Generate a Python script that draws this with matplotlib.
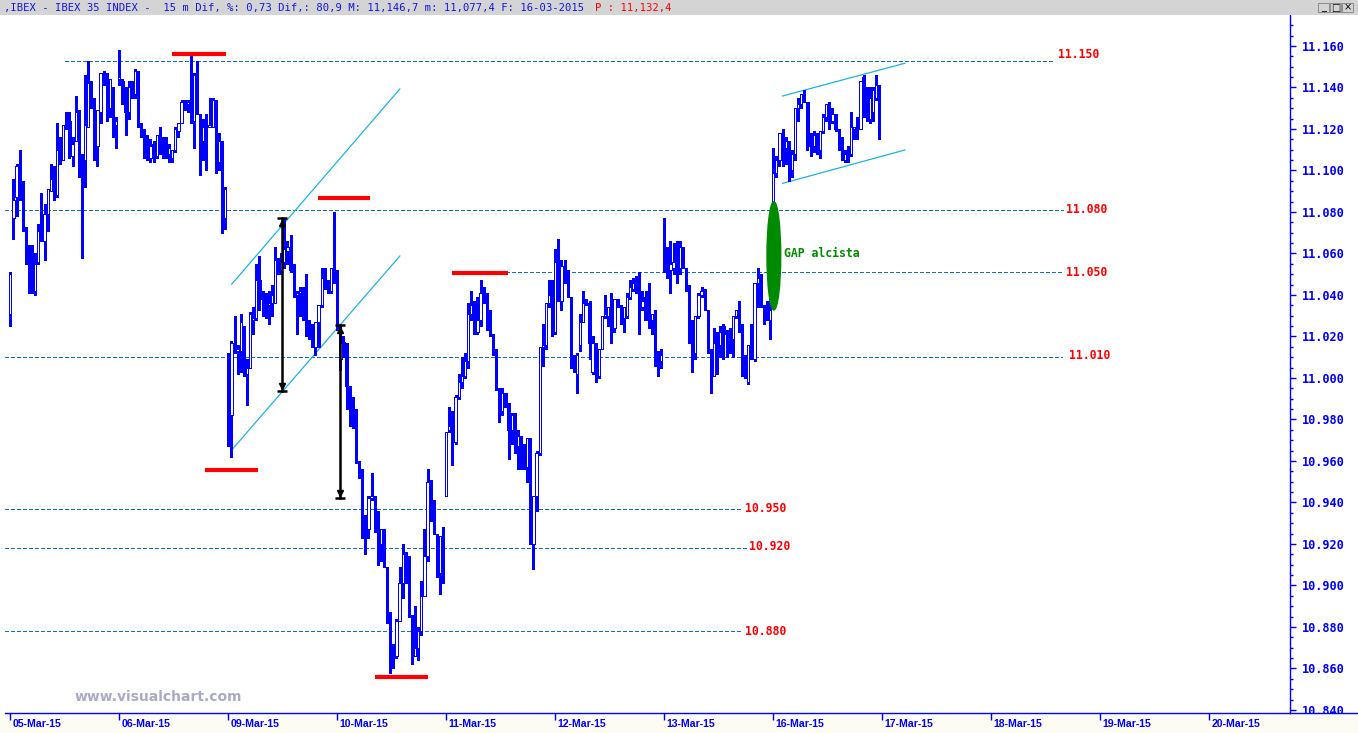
import matplotlib
matplotlib.use("Agg")
import matplotlib.pyplot as plt
from matplotlib import font_manager
from matplotlib.patches import Ellipse, Rectangle
from matplotlib.lines import Line2D
import matplotlib.transforms as mtransforms

# ------------------------------------------------------------------ data
day_labels = ["05-Mar-15", "06-Mar-15", "09-Mar-15", "10-Mar-15", "11-Mar-15", "12-Mar-15",
              "13-Mar-15", "16-Mar-15", "17-Mar-15", "18-Mar-15", "19-Mar-15", "20-Mar-15"]

# 15-minute bars, (open, high, low, close)
mar05 = [
    (11031, 11051, 11025, 11050), (11077, 11096, 11067, 11086), (11087, 11103, 11078, 11102),
    (11107, 11110, 11086, 11095), (11094, 11095, 11071, 11073), (11073, 11073, 11055, 11059),
    (11057, 11064, 11041, 11056), (11056, 11064, 11041, 11042), (11042, 11060, 11040, 11055),
    (11056, 11074, 11055, 11071), (11072, 11089, 11066, 11067), (11066, 11084, 11057, 11079),
    (11079, 11091, 11071, 11091), (11090, 11103, 11090, 11096), (11098, 11102, 11086, 11088),
    (11088, 11123, 11087, 11110), (11110, 11116, 11103, 11104), (11105, 11122, 11105, 11122),
    (11126, 11128, 11120, 11124), (11124, 11128, 11106, 11108), (11107, 11116, 11102, 11113),
    (11114, 11136, 11114, 11128), (11127, 11129, 11097, 11110), (11108, 11108, 11058, 11105),
    (11105, 11146, 11092, 11122), (11121, 11153, 11121, 11142), (11142, 11143, 11130, 11135),
    (11135, 11135, 11105, 11114), (11112, 11129, 11102, 11129), (11128, 11147, 11123, 11147),
    (11147, 11148, 11141, 11146), (11146, 11147, 11124, 11130), (11130, 11144, 11126, 11144),
    (11140, 11140, 11116, 11121), (11122, 11126, 11111, 11124),
]
mar06 = [
    (11144, 11158, 11141, 11145), (11143, 11144, 11132, 11136), (11136, 11140, 11117, 11128),
    (11128, 11143, 11125, 11140), (11139, 11143, 11135, 11137), (11137, 11149, 11135, 11148),
    (11148, 11148, 11121, 11123), (11123, 11123, 11116, 11118), (11118, 11120, 11106, 11116),
    (11115, 11117, 11105, 11106), (11106, 11115, 11104, 11112), (11113, 11114, 11104, 11107),
    (11107, 11117, 11106, 11117), (11117, 11121, 11108, 11109), (11110, 11116, 11106, 11107),
    (11114, 11116, 11106, 11108), (11108, 11113, 11104, 11111), (11106, 11110, 11104, 11110),
    (11110, 11121, 11109, 11120), (11119, 11123, 11116, 11123), (11123, 11134, 11123, 11133),
    (11133, 11134, 11129, 11132), (11132, 11134, 11128, 11133), (11133, 11155, 11123, 11124),
    (11124, 11147, 11111, 11146), (11147, 11153, 11127, 11128), (11127, 11127, 11098, 11114),
    (11114, 11125, 11105, 11121), (11122, 11127, 11100, 11121), (11121, 11135, 11121, 11122),
    (11121, 11135, 11121, 11134), (11134, 11134, 11099, 11104), (11104, 11118, 11100, 11114),
    (11114, 11114, 11070, 11080), (11077, 11092, 11072, 11091),
]
mar09 = [
    (11012, 11012, 10967, 10982), (10982, 11018, 10962, 11017), (11017, 11030, 11012, 11013),
    (11013, 11016, 11002, 11014), (11013, 11031, 11003, 11027), (11025, 11025, 11001, 11002),
    (11002, 11009, 10987, 11005), (11005, 11032, 11005, 11031), (11028, 11034, 11021, 11029),
    (11029, 11055, 11028, 11047), (11047, 11059, 11033, 11042), (11042, 11042, 11030, 11038),
    (11038, 11041, 11029, 11035), (11035, 11042, 11026, 11036), (11036, 11045, 11030, 11040),
    (11036, 11063, 11036, 11057), (11057, 11058, 11050, 11052), (11052, 11060, 11050, 11056),
    (11056, 11077, 11053, 11062), (11061, 11066, 11055, 11063), (11063, 11069, 11051, 11052),
    (11052, 11055, 11039, 11040), (11040, 11042, 11021, 11041), (11041, 11044, 11030, 11042),
    (11044, 11044, 11028, 11042), (11042, 11050, 11020, 11028), (11028, 11028, 11019, 11020),
    (11020, 11026, 11015, 11015), (11015, 11027, 11011, 11027), (11027, 11035, 11015, 11035),
    (11035, 11053, 11034, 11048), (11048, 11053, 11043, 11044), (11044, 11047, 11041, 11042),
    (11042, 11053, 11041, 11053), (11060, 11080, 11046, 11053),
]
mar10 = [
    (11052, 11052, 11023, 11025), (11009, 11025, 11004, 11017), (11017, 11020, 11010, 11017),
    (11017, 11017, 10985, 10996), (10996, 10996, 10977, 10991), (10991, 10991, 10976, 10985),
    (10983, 10985, 10959, 10959), (10959, 10960, 10952, 10955), (10955, 10956, 10923, 10929),
    (10929, 10934, 10915, 10927), (10927, 10943, 10923, 10942), (10942, 10954, 10941, 10943),
    (10943, 10943, 10926, 10935), (10935, 10936, 10910, 10920), (10920, 10927, 10912, 10927),
    (10927, 10927, 10909, 10909), (10909, 10909, 10882, 10887), (10887, 10887, 10858, 10870),
    (10870, 10872, 10860, 10866), (10866, 10884, 10865, 10883), (10883, 10909, 10883, 10901),
    (10901, 10920, 10894, 10915), (10915, 10916, 10901, 10910), (10910, 10914, 10885, 10886),
    (10886, 10886, 10862, 10867), (10866, 10890, 10866, 10870), (10870, 10880, 10864, 10878),
    (10878, 10902, 10876, 10895), (10895, 10927, 10895, 10914), (10914, 10956, 10912, 10950),
    (10950, 10951, 10931, 10932), (10932, 10941, 10925, 10925), (10925, 10925, 10904, 10906),
    (10906, 10924, 10896, 10924), (10924, 10928, 10901, 10902),
]
mar11 = [
    (10943, 10974, 10943, 10974), (10975, 10986, 10974, 10977), (10979, 10984, 10958, 10969),
    (10969, 10992, 10968, 10991), (10991, 11002, 10990, 10998), (10998, 11010, 10995, 11001),
    (11001, 11012, 11000, 11008), (11008, 11036, 11005, 11031), (11031, 11042, 11028, 11035),
    (11035, 11037, 11021, 11022), (11022, 11039, 11021, 11028), (11028, 11047, 11025, 11041),
    (11041, 11044, 11036, 11041), (11041, 11041, 11023, 11028), (11031, 11033, 11020, 11021),
    (11021, 11021, 11011, 11014), (11014, 11014, 10994, 10994), (10994, 10995, 10979, 10985),
    (10984, 10995, 10982, 10993), (10993, 10993, 10986, 10987), (10987, 10988, 10961, 10975),
    (10975, 10983, 10968, 10982), (10983, 10983, 10964, 10973), (10967, 10975, 10956, 10972),
    (10972, 10972, 10956, 10960), (10960, 10968, 10956, 10957), (10957, 10971, 10950, 10971),
    (10971, 10971, 10920, 10920), (10920, 10943, 10908, 10943), (10943, 10965, 10936, 10964),
    (10964, 11015, 10963, 11015), (11015, 11026, 11006, 11016), (11016, 11036, 11014, 11036),
    (11036, 11047, 11034, 11040), (11039, 11047, 11020, 11022),
]
mar12 = [
    (11022, 11062, 11021, 11056), (11056, 11067, 11037, 11037), (11037, 11057, 11033, 11054),
    (11053, 11057, 11046, 11047), (11047, 11052, 11039, 11039), (11039, 11039, 11005, 11012),
    (11011, 11011, 11003, 11003), (11002, 11012, 10993, 11011), (11016, 11031, 11013, 11027),
    (11027, 11042, 11027, 11036), (11036, 11038, 11035, 11035), (11036, 11037, 11009, 11017),
    (11003, 11020, 11002, 11017), (11017, 11017, 10998, 11002), (11001, 11014, 11000, 11014),
    (11014, 11030, 11014, 11030), (11030, 11040, 11029, 11031), (11030, 11034, 11025, 11034),
    (11034, 11041, 11017, 11026), (11024, 11038, 11022, 11038), (11038, 11038, 11034, 11034),
    (11034, 11035, 11026, 11028), (11029, 11034, 11022, 11034), (11030, 11041, 11029, 11039),
    (11039, 11047, 11038, 11044), (11043, 11048, 11042, 11046), (11046, 11049, 11041, 11045),
    (11045, 11051, 11021, 11035), (11034, 11042, 11033, 11037), (11039, 11042, 11028, 11028),
    (11038, 11046, 11024, 11028), (11028, 11031, 11021, 11031), (11031, 11033, 11006, 11006),
    (11010, 11013, 11001, 11006), (11008, 11014, 11005, 11011),
]
mar13 = [
    (11074, 11077, 11051, 11051), (11055, 11063, 11048, 11053), (11052, 11066, 11041, 11055),
    (11053, 11065, 11050, 11056), (11056, 11066, 11046, 11053), (11053, 11066, 11050, 11063),
    (11062, 11063, 11053, 11054), (11053, 11053, 11042, 11045), (11045, 11045, 11017, 11026),
    (11026, 11028, 11003, 11012), (11012, 11030, 11009, 11030), (11030, 11041, 11029, 11040),
    (11040, 11044, 11039, 11042), (11042, 11043, 11033, 11033), (11033, 11033, 11012, 11012),
    (11012, 11014, 10993, 11002), (11001, 11024, 11001, 11017), (11018, 11022, 11002, 11016),
    (11016, 11025, 11010, 11022), (11025, 11026, 11009, 11022), (11021, 11023, 11010, 11021),
    (11021, 11024, 11012, 11019), (11019, 11030, 11010, 11030), (11030, 11033, 11029, 11033),
    (11033, 11037, 11022, 11022), (11022, 11026, 11001, 11012), (11011, 11011, 11000, 11001),
    (10998, 11016, 10997, 11016), (11016, 11026, 11009, 11009), (11009, 11046, 11008, 11046),
    (11046, 11053, 11034, 11048), (11048, 11050, 11034, 11034), (11034, 11035, 11026, 11034),
    (11034, 11037, 11028, 11028), (11028, 11039, 11019, 11033),
]
mar16 = [
    (11080, 11111, 11078, 11099), (11099, 11107, 11097, 11105), (11105, 11118, 11102, 11118),
    (11118, 11120, 11102, 11111), (11111, 11116, 11103, 11114), (11114, 11114, 11095, 11100),
    (11100, 11110, 11097, 11108), (11108, 11130, 11105, 11130), (11130, 11135, 11124, 11132),
    (11132, 11137, 11130, 11137), (11137, 11139, 11133, 11133), (11133, 11133, 11110, 11112),
    (11118, 11118, 11107, 11112), (11112, 11119, 11109, 11117), (11117, 11118, 11108, 11110),
    (11110, 11119, 11106, 11119), (11119, 11127, 11118, 11126), (11126, 11132, 11124, 11132),
    (11132, 11133, 11120, 11124), (11124, 11130, 11123, 11127), (11127, 11127, 11119, 11120),
    (11120, 11120, 11110, 11116), (11116, 11116, 11105, 11105), (11105, 11110, 11104, 11108),
    (11108, 11112, 11104, 11108), (11108, 11128, 11107, 11121), (11120, 11121, 11115, 11121),
    (11121, 11126, 11115, 11120), (11120, 11143, 11120, 11143), (11145, 11146, 11126, 11127),
    (11127, 11140, 11124, 11125), (11125, 11140, 11123, 11135), (11128, 11140, 11124, 11139),
    (11135, 11146, 11134, 11141), (11141, 11141, 11115, 11115),
]
sessions = [mar05, mar06, mar09, mar10, mar11, mar12, mar13, mar16]

price_ticks = [10840, 10860, 10880, 10900, 10920, 10940, 10960, 10980, 11000,
               11020, 11040, 11060, 11080, 11100, 11120, 11140, 11160]
price_tick_labels = ["10.840", "10.860", "10.880", "10.900", "10.920", "10.940", "10.960",
                     "10.980", "11.000", "11.020", "11.040", "11.060", "11.080", "11.100",
                     "11.120", "11.140", "11.160"]

# support / resistance levels (drawn value, label)
level_values = [11152.6, 11081, 11051, 11010, 10937, 10918, 10878]
level_texts = ["11.150", "11.080", "11.050", "11.010", "10.950", "10.920", "10.880"]
# red swing markers (value)
swing_values = [11156.2, 11086.7, 11050.6, 10955.7, 10856]
# measured moves (top, bottom)
measure_top = [11077.1, 11025.5]
measure_bottom = [10993.9, 10942.3]
# channels: (start value, end value)
channel_lines = [(11045.2, 11139.3), (10965.3, 11058.8), (11135.9, 11151.7), (11093.8, 11109.9)]
gap_range = (11032.8, 11085.0)

title_main = ",IBEX - IBEX 35 INDEX -  15 m Dif, %: 0,73 Dif,: 80,9 M: 11,146,7 m: 11,077,4 F: 16-03-2015"
title_price = "P : 11,132,4"

# ------------------------------------------------------------------ layout
W, H = 1358, 733
BARS_PER_DAY = 35
BLUE = "#0000ff"
LEVEL_BLUE = "#0a6ed1"
CYAN = "#1ab4e4"
RED = "#ff0000"
GREEN = "#008a00"
MONO = "DejaVu Sans Mono"

avail = {f.name for f in font_manager.fontManager.ttflist}
DATE_FONT = "Liberation Sans" if "Liberation Sans" in avail else "DejaVu Sans"


def fx(px):
    return px / W


def fy(py):
    return 1 - py / H


fig = plt.figure(figsize=(W / 100, H / 100), dpi=100)
fig.patch.set_facecolor("white")

ax = fig.add_axes([fx(5), fy(713), fx(1290) - fx(5), fy(15) - fy(713)])
ax.set_facecolor("white")
ax.set_xlim(-1.7, 410.95)
ax.set_ylim(10838.55, 11174.94)

# ---- candles
xs, op, hi, lo, cl = [], [], [], [], []
for d, bars in enumerate(sessions):
    for j, (bo, bh, bl, bc) in enumerate(bars):
        xs.append(d * BARS_PER_DAY + j)
        op.append(bo); hi.append(bh); lo.append(bl); cl.append(bc)

ax.vlines(xs, lo, hi, colors=BLUE, linewidth=0.75, zorder=3, antialiased=False)
bottoms = [min(a, b) for a, b in zip(op, cl)]
heights = [max(abs(b - a), 0.45) for a, b in zip(op, cl)]
faces = ["white" if b >= a else BLUE for a, b in zip(op, cl)]
ax.bar(xs, heights, bottom=bottoms, width=0.72, color=faces, edgecolor=BLUE,
       linewidth=0.72, zorder=4, antialiased=False)

# ---- levels
level_x0 = [17.6, -1.7, 141.8, -1.7, -1.7, -1.7, -1.7]
level_x1 = [335.5, 338.1, 338.1, 337.8, 235.3, 236.6, 235.0]
label_x = [336.3, 339.1, 339.1, 340.0, 236.0, 237.3, 236.0]
label_dy = [3.5, 0, 0, 0.8, 0, 0.8, 0]
for v, t, a0, a1, lx, dy in zip(level_values, level_texts, level_x0, level_x1, label_x, label_dy):
    ax.plot([a0, a1], [v, v], color=LEVEL_BLUE, lw=0.8, ls=(0, (3, 2)), zorder=2,
            antialiased=False)
    ax.text(lx, v + dy, t, color=RED, fontfamily=MONO, fontweight="bold", fontsize=8.3,
            ha="left", va="center", zorder=7)

# ---- red swing markers
swing_x = [(51.9, 69.3), (98.8, 115.5), (141.8, 159.8), (62.5, 79.5), (117.1, 134.1)]
for v, (a0, a1) in zip(swing_values, swing_x):
    ax.plot([a0, a1], [v, v], color=RED, lw=3.0, solid_capstyle="butt", zorder=6)

# ---- channels
channel_x = [(71.1, 125.1), (71.1, 125.1), (248.0, 287.3), (248.0, 287.3)]
for (v0, v1), (a0, a1) in zip(channel_lines, channel_x):
    ax.plot([a0, a1], [v0, v1], color=CYAN, lw=0.9, zorder=2)

# ---- measured moves
measure_x = [87.3, 105.9]
for mx, top, bot in zip(measure_x, measure_top, measure_bottom):
    ax.plot([mx, mx], [bot, top], color="black", lw=1.8, zorder=8)
    ax.plot([mx - 1.5, mx + 1.5], [top, top], color="black", lw=1.8, zorder=8,
            solid_capstyle="butt")
    ax.plot([mx - 1.5, mx + 1.5], [bot, bot], color="black", lw=1.8, zorder=8,
            solid_capstyle="butt")
    ax.plot([mx], [top - 2.2], marker="^", ms=4.5, color="black", zorder=8)
    ax.plot([mx], [bot + 2.2], marker="v", ms=4.5, color="black", zorder=8)

# ---- gap marker
gap_x = 245.2
ax.add_patch(Ellipse((gap_x, (gap_range[0] + gap_range[1]) / 2), 4.4,
                     gap_range[1] - gap_range[0], facecolor=GREEN, edgecolor=GREEN,
                     zorder=9))
ax.text(248.5, 11059.8, "GAP alcista", color=GREEN, fontfamily=MONO, fontweight="bold",
        fontsize=8.3, ha="left", va="center", zorder=9)

# ---- axes styling
for s in ("left", "top"):
    ax.spines[s].set_visible(False)
for s in ("right", "bottom"):
    ax.spines[s].set_color(BLUE)
    ax.spines[s].set_linewidth(1.0)

ax.yaxis.tick_right()
ax.set_yticks(price_ticks)
ax.set_yticklabels(price_tick_labels)
ax.set_yticks([v for v in range(10840, 11175, 5)], minor=True)
ax.tick_params(axis="y", which="major", direction="out", length=4.3, width=1.0,
               colors=BLUE, pad=4.0)
ax.tick_params(axis="y", which="minor", direction="out", length=2.3, width=1.0, colors=BLUE)
for t in ax.get_yticklabels():
    t.set_fontfamily(MONO)
    t.set_fontweight("bold")
    t.set_fontsize(8.6)

ax.set_xticks([d * BARS_PER_DAY for d in range(len(day_labels))])
ax.set_xticklabels(day_labels)
ax.tick_params(axis="x", which="major", direction="out", length=5, width=1.0,
               colors=BLUE, pad=-1.0)
shift = mtransforms.ScaledTranslation(1.5 / 72, 0, fig.dpi_scale_trans)
for t in ax.get_xticklabels():
    t.set_fontfamily(DATE_FONT)
    t.set_fontweight("bold")
    t.set_fontsize(7.6)
    t.set_ha("left")
    t.set_transform(t.get_transform() + shift)

# ---- figure furniture
fig.add_artist(Rectangle((0, 0), 1, fy(713), transform=fig.transFigure,
                         facecolor="#fcfcf3", edgecolor="none", zorder=-1))
fig.add_artist(Rectangle((fx(1291), 0), 1 - fx(1291), fy(713) - 0.0005,
                         transform=fig.transFigure, facecolor="#fcfcf3",
                         edgecolor="none", zorder=5))
fig.add_artist(Line2D([fx(1290), 1], [fy(713), fy(713)], transform=fig.transFigure,
                      color=BLUE, lw=1.0, zorder=6))
# title bar
fig.add_artist(Rectangle((0, fy(15)), 1, 15 / H, transform=fig.transFigure,
                         facecolor="#d4d4d4", edgecolor="none", zorder=1))
t_main = fig.text(fx(4), fy(7.5), title_main, color="#1414e6", fontfamily=MONO,
                  fontsize=7.6, ha="left", va="center", zorder=2)
fig.canvas.draw()
main_right = t_main.get_window_extent(renderer=fig.canvas.get_renderer()).x1
fig.text((main_right + 11) / W, fy(7.5), title_price, color=RED, fontfamily=MONO,
         fontsize=7.6, ha="left", va="center", zorder=2)
# window buttons
for bx, sym in zip((1318, 1330, 1342), ("_", "\u25a1", "\u00d7")):
    fig.add_artist(Rectangle((fx(bx), fy(12)), 11 / W, 9 / H, transform=fig.transFigure,
                             facecolor="#d4d4d4", edgecolor="#808080", lw=0.6, zorder=2))
    fig.text(fx(bx + 5.5), fy(7.5), sym, fontsize=7, ha="center", va="center",
             color="black", zorder=3)

# watermark
fig.text(fx(75), fy(697), "www.visualchart.com", color="#aaaac8", fontfamily="DejaVu Sans",
         fontweight="bold", fontsize=10, ha="left", va="center", zorder=3)

fig.savefig("out.png", dpi=100, facecolor=fig.get_facecolor())
